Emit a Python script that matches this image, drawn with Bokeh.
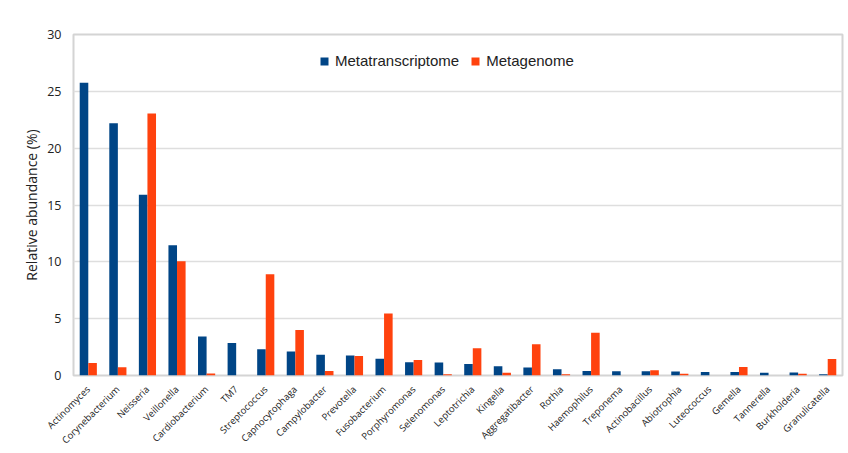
from bokeh.plotting import figure
from bokeh.models import ColumnDataSource, FactorRange, Range1d, Legend, LegendItem, FixedTicker
from bokeh.transform import dodge
from bokeh.embed import file_html
from bokeh.resources import INLINE
import math

genera = ["Actinomyces", "Corynebacterium", "Neisseria", "Veillonella", "Cardiobacterium",
          "TM7", "Streptococcus", "Capnocytophaga", "Campylobacter", "Prevotella",
          "Fusobacterium", "Porphyromonas", "Selenomonas", "Leptotrichia", "Kingella",
          "Aggregatibacter", "Rothia", "Haemophilus", "Treponema", "Actinobacillus",
          "Abiotrophia", "Luteococcus", "Gemella", "Tannerella", "Burkholderia", "Granulicatella"]
metatranscriptome = [25.75, 22.2, 15.9, 11.45, 3.43, 2.85, 2.32, 2.12, 1.83, 1.75,
                     1.47, 1.16, 1.14, 1.02, 0.81, 0.7, 0.55, 0.4, 0.38, 0.38,
                     0.35, 0.3, 0.3, 0.25, 0.27, 0.1]
metagenome = [1.1, 0.72, 23.05, 10.05, 0.17, 0.0, 8.9, 4.01, 0.4, 1.72,
              5.46, 1.36, 0.1, 2.4, 0.25, 2.76, 0.12, 3.77, 0.0, 0.47,
              0.15, 0.0, 0.75, 0.0, 0.15, 1.45]
y_ticks = [0, 5, 10, 15, 20, 25, 30]

BLUE = "#004586"
RED = "#ff420e"

src = ColumnDataSource(dict(g=genera, mt=metatranscriptome, mg=metagenome))

p = figure(x_range=FactorRange(*genera, range_padding=0), y_range=Range1d(0, 30),
           width=848, height=453, output_backend="svg", toolbar_location=None,
           min_border_left=73, min_border_right=6, min_border_top=34, min_border_bottom=75,
           margin=0)

r1 = p.vbar(x=dodge("g", -0.145, range=p.x_range), top="mt", width=0.29, source=src,
            fill_color=BLUE, line_color=None)
r2 = p.vbar(x=dodge("g", 0.145, range=p.x_range), top="mg", width=0.29, source=src,
            fill_color=RED, line_color=None)

legend = Legend(items=[LegendItem(label="Metatranscriptome", renderers=[r1]),
                       LegendItem(label="Metagenome", renderers=[r2])],
                orientation="horizontal", location=(246, 306),
                glyph_width=10, glyph_height=10, label_standoff=6, spacing=11,
                padding=0, margin=0, border_line_color=None, background_fill_alpha=0,
                label_text_font="Liberation Sans", label_text_font_size="15px",
                label_text_color="#222222", label_height=16)
p.add_layout(legend, "center")

# outer dark frame lines (top and left) as filled legend boxes with invisible content
# (x offset from frame left, y offset from frame bottom, width, height)
for lx, ly, w, h in [(-64, 366, 839, 2), (-64, -75, 2, 443)]:
    edge = Legend(items=[LegendItem(label=" ", renderers=[r1])],
                  location=(lx, ly), orientation="vertical",
                  glyph_width=0, glyph_height=h, label_standoff=0,
                  label_width=w, label_height=h, padding=0, margin=0, spacing=0,
                  label_text_font_size="1px", label_text_alpha=0,
                  background_fill_color="#333333", background_fill_alpha=1,
                  border_line_color=None, inactive_fill_alpha=0)
    p.add_layout(edge, "center")

p.outline_line_color = "#d4d4d4"
p.outline_line_width = 2
p.xgrid.grid_line_color = None
p.ygrid.grid_line_color = "#dedede"
p.ygrid.grid_line_width = 1.5

p.yaxis.ticker = FixedTicker(ticks=y_ticks)
p.yaxis.axis_line_color = None
p.yaxis.major_tick_line_color = None
p.yaxis.minor_tick_line_color = None
p.yaxis.major_label_text_font = "Open Sans"
p.yaxis.major_label_text_font_size = "12.5px"
p.yaxis.major_label_text_color = "#222222"
p.yaxis.major_label_standoff = 6
p.yaxis.axis_label = "Relative abundance (%)"
p.yaxis.axis_label_text_font = "Open Sans"
p.yaxis.axis_label_text_font_size = "14px"
p.yaxis.axis_label_text_font_style = "normal"
p.yaxis.axis_label_text_color = "#222222"
p.yaxis.axis_label_standoff = 3

p.xaxis.axis_line_color = None
p.xaxis.major_tick_line_color = None
p.xaxis.minor_tick_line_color = None
p.xaxis.major_label_orientation = math.pi / 4
p.xaxis.major_label_text_font = "Open Sans"
p.xaxis.major_label_text_font_size = "9.5px"
p.xaxis.major_label_text_color = "#1a1a1a"
p.xaxis.major_label_standoff = 6

open("out.html", "w").write(file_html(p, INLINE))
